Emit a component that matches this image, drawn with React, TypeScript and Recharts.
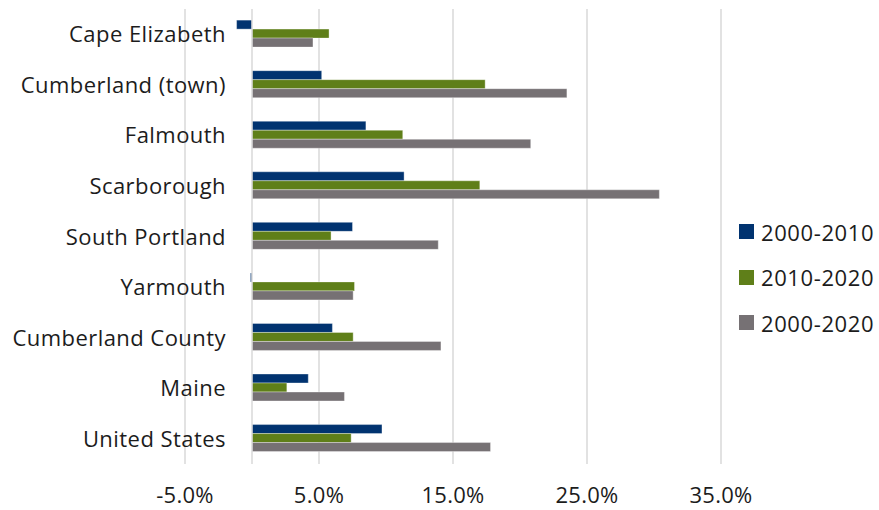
import { BarChart, Bar, XAxis, YAxis, CartesianGrid, ReferenceLine, Legend } from 'recharts'

const places = [
    'Cape Elizabeth',
    'Cumberland (town)',
    'Falmouth',
    'Scarborough',
    'South Portland',
    'Yarmouth',
    'Cumberland County',
    'Maine',
    'United States',
]

// population change, as fractions
const change2000to2010 = [-0.0115, 0.052, 0.085, 0.1135, 0.075, -0.0012, 0.06, 0.042, 0.097]
const change2010to2020 = [0.0575, 0.174, 0.1125, 0.17, 0.059, 0.0765, 0.0755, 0.026, 0.074]
const change2000to2020 = [0.0455, 0.235, 0.208, 0.304, 0.139, 0.0755, 0.141, 0.069, 0.178]

const xTicks = [-0.05, 0.05, 0.15, 0.25, 0.35]

const SERIES = [
    { key: 'p1', name: '2000-2010', color: '#013370' },
    { key: 'p2', name: '2010-2020', color: '#5f7f19' },
    { key: 'p3', name: '2000-2020', color: '#767174' },
]

const data = places.map((name, i) => ({
    name,
    p1: change2000to2010[i],
    p2: change2010to2020[i],
    p3: change2000to2020[i],
}))

const FONT = '"Open Sans", "Noto Sans", sans-serif'
const TEXT = '#1c1c1c'

const pct = (v: number) => `${(v * 100).toFixed(1)}%`

function PlaceTick({ y, payload }: any) {
    return (
        <text x={226} y={y} dy={8} textAnchor="end" fill={TEXT} fontSize={22} letterSpacing={0.45} fontFamily={FONT}>
            {payload.value}
        </text>
    )
}

function LegendBox() {
    return (
        <div style={{ fontFamily: FONT, fontSize: 22, letterSpacing: 0.6, color: TEXT }}>
            {SERIES.map((s) => (
                <div key={s.key} style={{ display: 'flex', alignItems: 'center', height: 45.5 }}>
                    <span style={{ width: 15, height: 15, background: s.color, marginRight: 7 }} />
                    <span>{s.name}</span>
                </div>
            ))}
        </div>
    )
}

export default function App() {
    return (
        <div style={{ position: 'absolute', left: 0, top: 0, width: 879, height: 510, background: '#fff' }}>
            <BarChart
                width={879}
                height={510}
                data={data}
                layout="vertical"
                margin={{ top: 9, right: 18, bottom: 0, left: 0 }}
                barCategoryGap="22%"
                barGap={0}
            >
                <CartesianGrid horizontal={false} stroke="#d9d9d9" strokeWidth={1.5} />
                <XAxis
                    type="number"
                    domain={[-0.05, 0.35]}
                    ticks={xTicks}
                    tickFormatter={pct}
                    axisLine={false}
                    tickLine={false}
                    tickSize={0}
                    tickMargin={23}
                    height={46}
                    tick={{ fill: TEXT, fontSize: 22, fontFamily: FONT, letterSpacing: 0.3 }}
                />
                <YAxis
                    type="category"
                    dataKey="name"
                    width={185}
                    axisLine={false}
                    tickLine={false}
                    tick={<PlaceTick />}
                    interval={0}
                />
                <ReferenceLine x={0} stroke="#d9d9d9" strokeWidth={1.5} />
                {SERIES.map((s) => (
                    <Bar
                        key={s.key}
                        dataKey={s.key}
                        name={s.name}
                        fill={s.color}
                        stroke="rgba(255,255,255,0.35)"
                        strokeWidth={1}
                        isAnimationActive={false}
                    />
                ))}
                <Legend
                    layout="vertical"
                    align="right"
                    verticalAlign="middle"
                    content={<LegendBox />}
                    wrapperStyle={{ left: 739, top: 209, width: 140 }}
                />
            </BarChart>
        </div>
    )
}
